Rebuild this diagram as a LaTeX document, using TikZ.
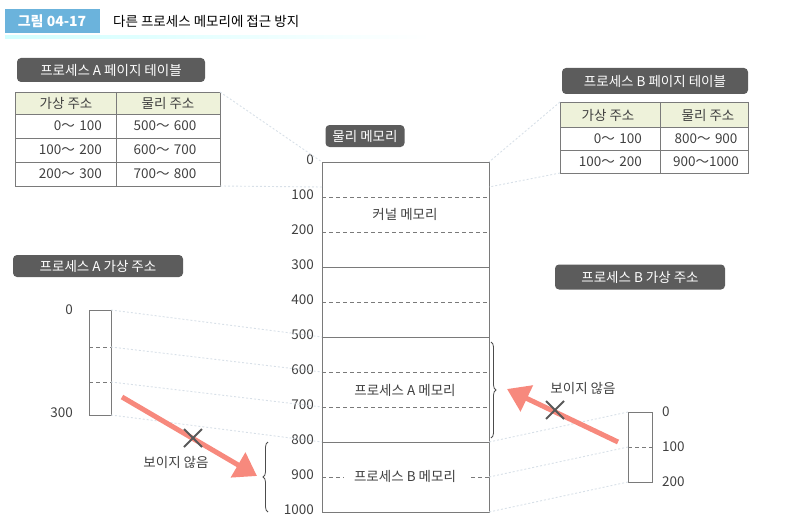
\documentclass[tikz,border=0pt]{standalone}
\usepackage{fontspec}
\setmainfont{Noto Sans CJK KR}
\usetikzlibrary{arrows.meta,decorations.pathreplacing,calc}

\definecolor{tagblue}{HTML}{6BB3DC}
\definecolor{taggray}{HTML}{5C5C5C}
\definecolor{headgreen}{HTML}{EEF2DA}
\definecolor{linegray}{HTML}{7A7A7A}
\definecolor{arrowred}{HTML}{F7897D}
\definecolor{guideblue}{HTML}{D8E0E8}

\tikzset{
  tag/.style={fill=taggray, rounded corners=4pt, text=white, inner sep=0pt,
    font=\fontsize{13.5}{15}\selectfont},
  txt/.style={font=\fontsize{13.5}{15}\selectfont, text=black!75, inner sep=1pt},
  memline/.style={draw=linegray, line width=0.8pt},
  memdash/.style={draw=linegray, line width=0.8pt, dash pattern=on 4pt off 3pt},
  guide/.style={draw=guideblue, line width=0.9pt, dash pattern=on 2pt off 2pt},
  blocked/.style={draw=arrowred, line width=5pt, -{Triangle[length=22pt,width=28pt]}},
  cross/.style={draw=black!65, line width=1.8pt},
  bracket/.style={draw=black!70, line width=0.8pt, decorate, decoration={brace, amplitude=5pt}},
}

\begin{document}
\begin{tikzpicture}[x=1pt, y=-1pt]
  \useasboundingbox (0,0) rectangle (785,519);

  % title
  \node[fill=tagblue, text=white, minimum width=95pt, minimum height=24pt, inner sep=0pt,
    font=\fontsize{14}{15}\bfseries] (figno) at (52,21) {그림 04-17};
  \node[anchor=west, inner sep=0pt, font=\fontsize{13.5}{15}\selectfont] (title) at (113,21) {다른 프로세스 메모리에 접근 방지};
  \shade[left color=cyan!18, right color=white] (5,36) rectangle (430,39);

  % page table A
  \node[tag, minimum width=188pt, minimum height=24pt] (tagPTA) at (111,70) {프로세스 A 페이지 테이블};
  \fill[headgreen] (15,92) rectangle (220,114);
  \draw[memline] (15,92) rectangle (220,186);
  \draw[memline] (15,114) -- (220,114) (15,138) -- (220,138) (15,162) -- (220,162);
  \draw[memline] (116,92) -- (116,186);
  \coordinate (ptaTop) at (220,92);
  \coordinate (ptaBot) at (220,186);
  \node[txt] (ptaH1) at (66,103) {가상 주소};
  \node[txt] (ptaH2) at (168,103) {물리 주소};
  \node[txt, anchor=east] (ptaV1) at (103,126) {0～\,\,100};
  \node[txt, anchor=east] (ptaV2) at (103,150) {100～\,\,200};
  \node[txt, anchor=east] (ptaV3) at (103,174) {200～\,\,300};
  \node[txt] (ptaP1) at (165,126) {500～\,\,600};
  \node[txt] (ptaP2) at (165,150) {600～\,\,700};
  \node[txt] (ptaP3) at (165,174) {700～\,\,800};

  % page table B
  \node[tag, minimum width=186pt, minimum height=26pt] (tagPTB) at (655,81) {프로세스 B 페이지 테이블};
  \fill[headgreen] (560,102) rectangle (748,127);
  \draw[memline] (560,102) rectangle (748,173);
  \draw[memline] (560,127) -- (748,127) (560,150) -- (748,150);
  \draw[memline] (660,102) -- (660,173);
  \coordinate (ptbTop) at (560,102);
  \coordinate (ptbBot) at (560,173);
  \node[txt] (ptbH1) at (608,115) {가상 주소};
  \node[txt] (ptbH2) at (708,115) {물리 주소};
  \node[txt, anchor=east] (ptbV1) at (643,139) {0～\,\,100};
  \node[txt, anchor=east] (ptbV2) at (643,162) {100～\,\,200};
  \node[txt] (ptbP1) at (706,139) {800～\,\,900};
  \node[txt] (ptbP2) at (706,162) {900～1000};

  % physical memory
  \node[tag, minimum width=79pt, minimum height=22pt] (tagPhys) at (365,136) {물리 메모리};
  \draw[memline] (322,162) rectangle (489,512);
  \foreach \a in {0,100,...,1000} {
    \coordinate (mL\a) at (322,{162+0.35*\a});
    \coordinate (mR\a) at (489,{162+0.35*\a});
    \node[txt, anchor=east] (addr\a) at (315,{160+0.35*\a}) {\a};
  }
  \foreach \a in {100,200,400,600,700}
    \draw[memdash] (mL\a) -- (mR\a);
  \foreach \a in {300,500,800}
    \draw[memline] (mL\a) -- (mR\a);
  \draw[memdash] (mL900) -- ++(22,0);
  \draw[memdash] (mR900) -- ++(-20,0);
  \node[txt] (kernel) at (405,214) {커널 메모리};
  \node[txt] (memA) at (405,390) {프로세스 A 메모리};
  \node[txt, fill=white] (memB) at (405,476) {프로세스 B 메모리};
  \draw[bracket] (491,342) -- (491,438);
  \draw[bracket] (268,512) -- (268,442);

  % process A virtual addresses
  \node[tag, minimum width=170pt, minimum height=22pt] (tagVA) at (98,266) {프로세스 A 가상 주소};
  \draw[memline] (89,310) rectangle (111,415);
  \draw[memdash] (89,347) -- (111,347) (89,382) -- (111,382);
  \coordinate (va0) at (111,310);
  \coordinate (va100) at (111,347);
  \coordinate (va200) at (111,382);
  \coordinate (va300) at (111,415);
  \node[txt, anchor=east] (vaLab0) at (74,310) {0};
  \node[txt, anchor=east] (vaLab300) at (74,413) {300};

  % process B virtual addresses
  \node[tag, minimum width=170pt, minimum height=25pt] (tagVB) at (640,277) {프로세스 B 가상 주소};
  \draw[memline] (628,412) rectangle (652,482);
  \draw[memdash] (628,447) -- (652,447);
  \coordinate (vb0) at (628,412);
  \coordinate (vb100) at (628,447);
  \coordinate (vb200) at (628,482);
  \node[txt, anchor=west] (vbLab0) at (661,412) {0};
  \node[txt, anchor=west] (vbLab100) at (661,447) {100};
  \node[txt, anchor=west] (vbLab200) at (661,482) {200};

  % guide lines
  \draw[guide] (ptaTop) -- (mL0);
  \draw[guide] (ptaBot) -- (322,187);
  \draw[guide] (ptbTop) -- (mR0);
  \draw[guide] (ptbBot) -- (489,187);
  \draw[guide] (va0) -- (mL500);
  \draw[guide] (va100) -- (mL600);
  \draw[guide] (va200) -- (mL700);
  \draw[guide] (va300) -- (mL800);
  \draw[guide] (vb0) -- (mR800);
  \draw[guide] (vb100) -- (mR900);
  \draw[guide] (vb200) -- (mR1000);

  % blocked access
  \coordinate (startA) at (122,397);
  \coordinate (endA) at (257,476);
  \draw[blocked] (startA) -- (endA);
  \coordinate (xA) at (193,438);
  \draw[cross] ($(xA)+(-9,-9)$) -- ($(xA)+(9,9)$) ($(xA)+(-9,9)$) -- ($(xA)+(9,-9)$);
  \node[txt] (noA) at (176,462) {보이지 않음};

  \coordinate (startB) at (618,442);
  \coordinate (endB) at (507,389);
  \draw[blocked] (startB) -- (endB);
  \coordinate (xB) at (555,410);
  \draw[cross] ($(xB)+(-9,-9)$) -- ($(xB)+(9,9)$) ($(xB)+(-9,9)$) -- ($(xB)+(9,-9)$);
  \node[txt] (noB) at (583,388) {보이지 않음};
\end{tikzpicture}
\end{document}
